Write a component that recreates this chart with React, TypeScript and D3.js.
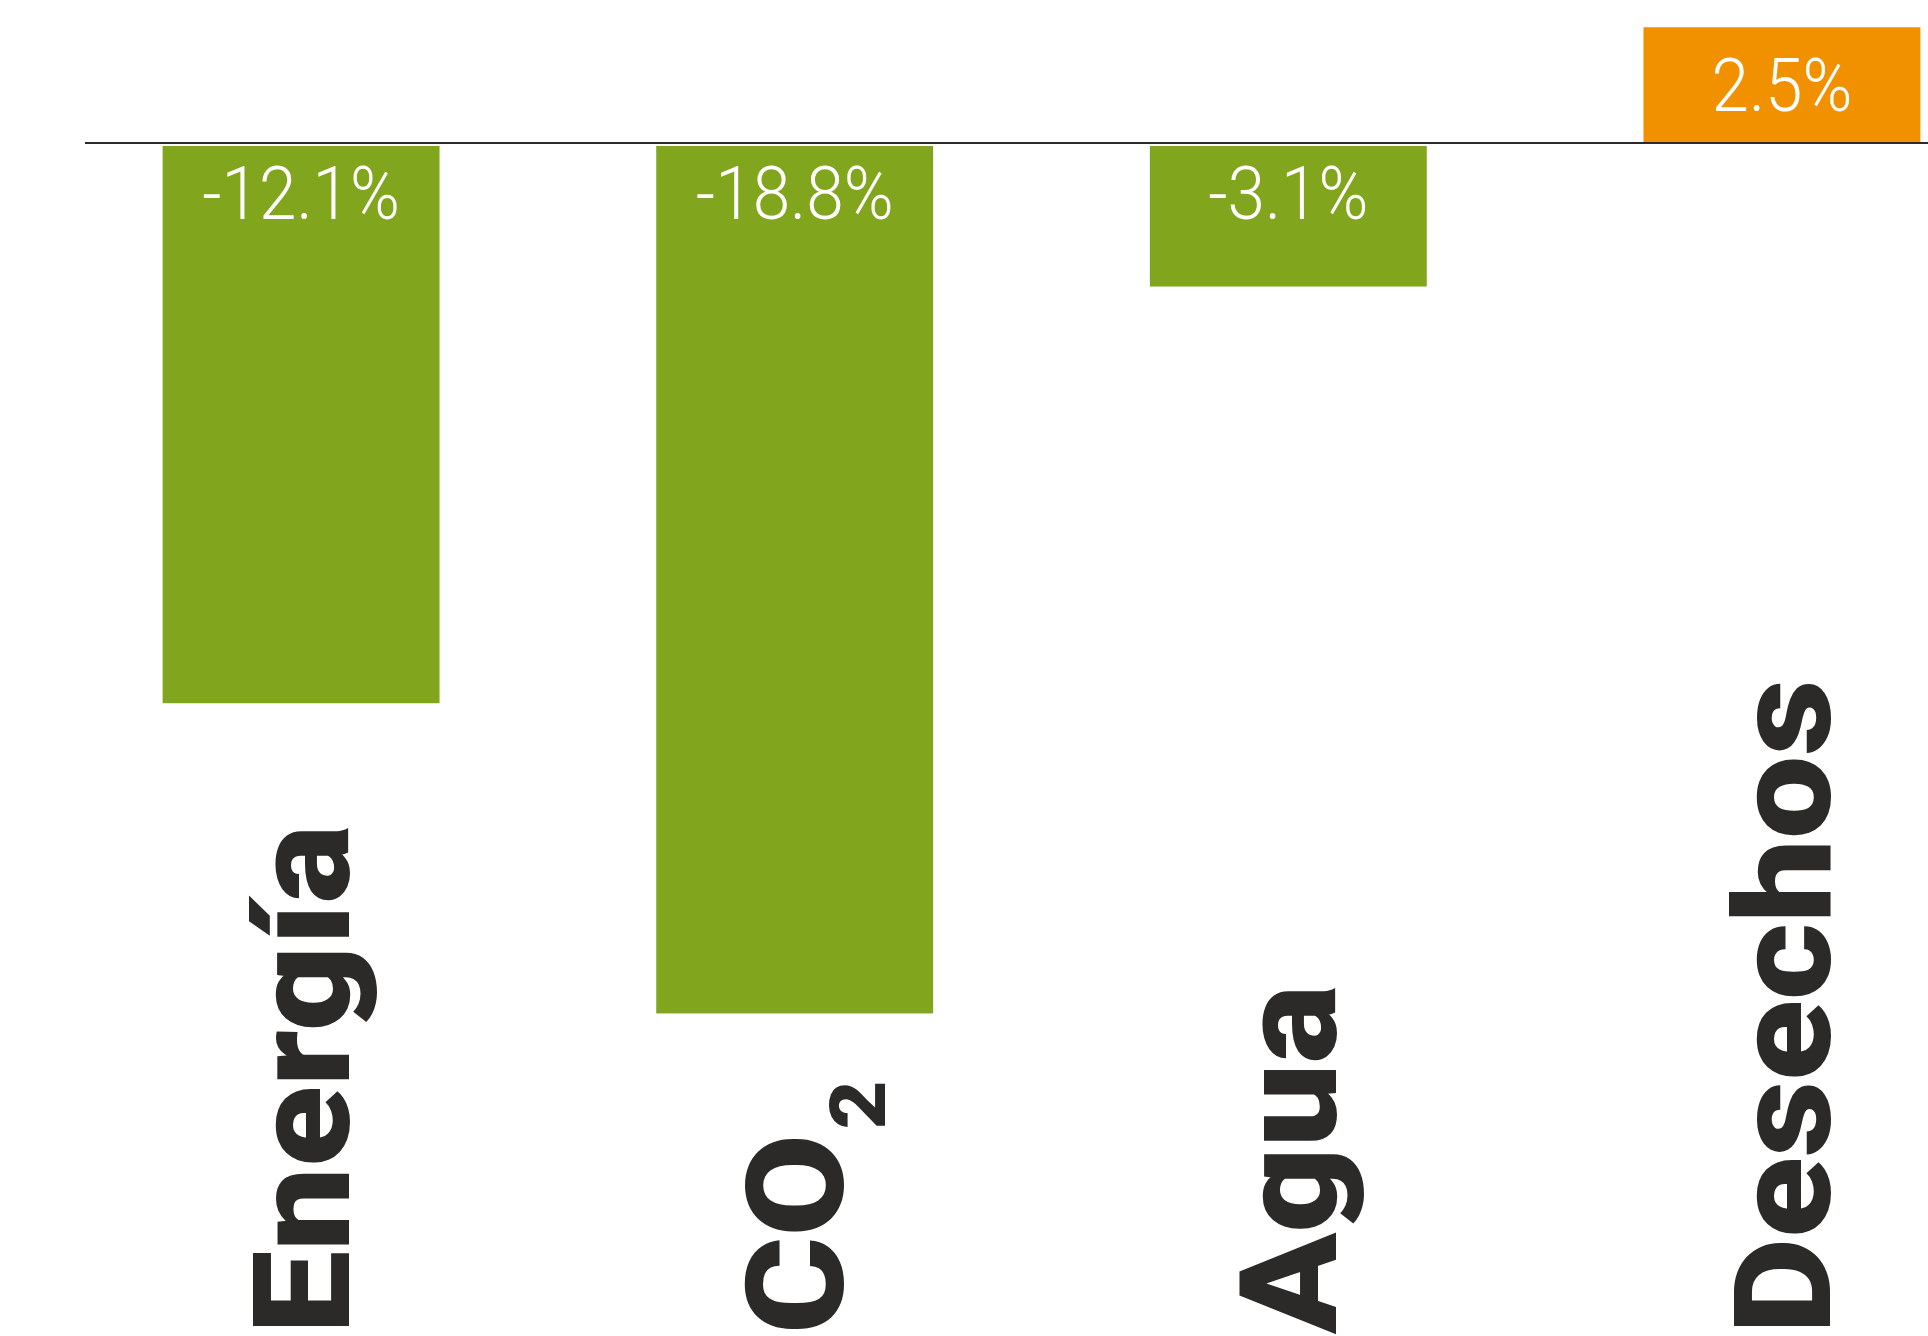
import React from "react";
import * as d3 from "d3";

const categories = ["Energía", "CO2", "Agua", "Desechos"];
const values = [-12.1, -18.8, -3.1, 2.5];
const valueLabels = ["-12.1%", "-18.8%", "-3.1%", "2.5%"];

const W = 1928;
const H = 1336;
const GREEN = "#82A51E";
const ORANGE = "#F29100";
const DARK = "#2B2A28";

export default function App() {
  const x = d3
    .scaleBand<string>()
    .domain(categories)
    .range([162.6, 1920.4])
    .paddingInner(0.439)
    .paddingOuter(0);

  const k = 46.3;
  const y0 = 143;
  const y = d3
    .scaleLinear()
    .domain([-20, 3])
    .range([y0 + 20 * k, y0 - 3 * k]);

  const capHalf = 48;
  const labelBottom = 1334;

  return (
    <svg
      width={W}
      height={H}
      viewBox={`0 0 ${W} ${H}`}
      style={{ position: "absolute", left: 0, top: 0, display: "block", background: "#fff" }}
    >
      {categories.map((c, i) => {
        const v = values[i];
        const bx = x(c) as number;
        const bw = x.bandwidth();
        const top = v < 0 ? y(0) + 3 : y(v);
        const bottom = v < 0 ? y(v) : y(0) - 1;
        const cx = bx + bw / 2;
        const ty = v < 0 ? y(0) + 76 : (y(v) + y(0)) / 2 + 26;
        return (
          <g key={c}>
            <rect x={bx} y={top} width={bw} height={bottom - top} fill={v < 0 ? GREEN : ORANGE} />
            <text
              transform={`translate(${cx},${ty}) scale(0.9,1)`}
              textAnchor="middle"
              fill="#fff"
              fontFamily="Roboto, 'Liberation Sans', sans-serif"
              fontWeight={300}
              fontSize={75}
            >
              {valueLabels[i]}
            </text>
            <text
              transform={`translate(${cx + capHalf},${labelBottom}) rotate(-90) scale(1.1,1)`}
              textAnchor="start"
              fill={DARK}
              fontFamily="Roboto, 'Liberation Sans', sans-serif"
              fontWeight={900}
              fontSize={135}
            >
              {c === "CO2" ? (
                <>
                  CO
                  <tspan fontSize={77} dy={42} dx={4}>
                    2
                  </tspan>
                </>
              ) : (
                c
              )}
            </text>
          </g>
        );
      })}
      <line x1={85} x2={W} y1={y0} y2={y0} stroke="#2b2b2b" strokeWidth={2} />
    </svg>
  );
}
